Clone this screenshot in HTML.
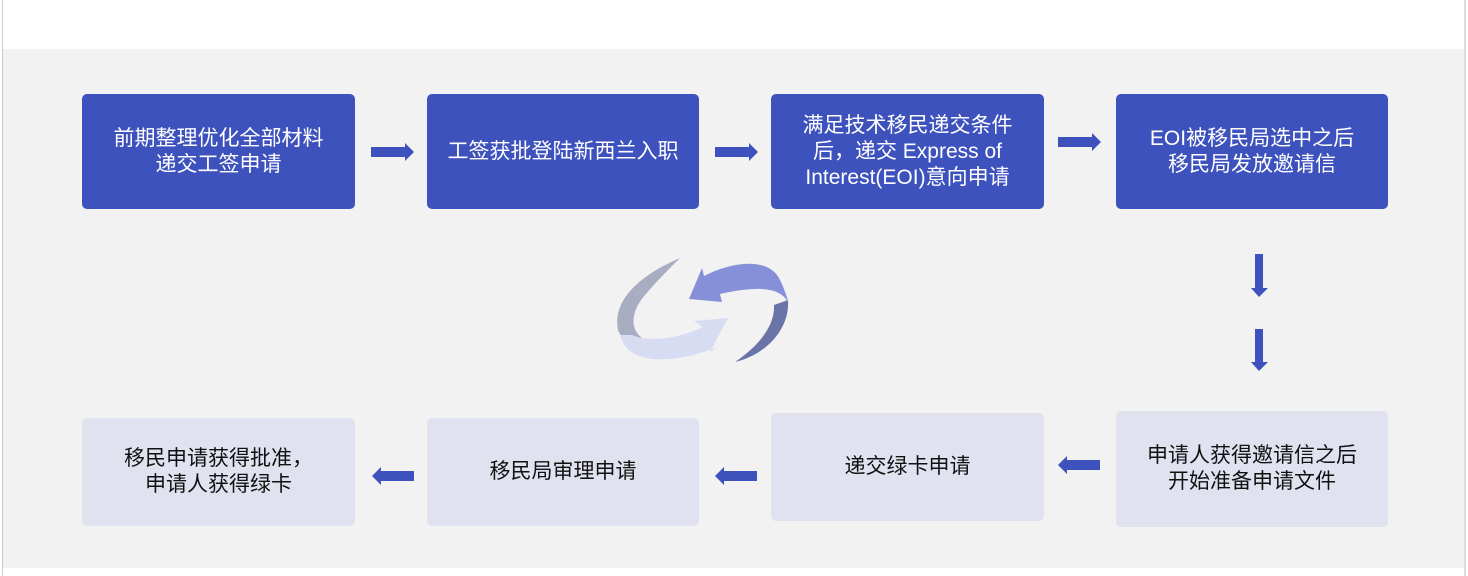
<!DOCTYPE html>
<html><head><meta charset="utf-8"><style>
html,body{margin:0;padding:0;width:1468px;height:576px;background:#fff;overflow:hidden;position:relative;font-family:"Liberation Sans","Noto Sans CJK SC",sans-serif}
.bg{position:absolute;left:3px;top:49px;width:1461px;height:519px;background:#f2f2f2}
.lb{position:absolute;left:2px;top:0;width:1px;height:576px;background:#ccc}
.rb{position:absolute;left:1464px;top:0;width:2px;height:576px;background:#ddd}
.b{position:absolute;border-radius:5px;display:flex;align-items:center;justify-content:center;text-align:center;font-size:21px;line-height:26px}
.d{background:#3d52bd;color:#fff}
.l{background:#e0e2ef;color:#111}
svg{position:absolute;left:0;top:0}
</style></head><body>
<div class="bg"></div><div class="lb"></div><div class="rb"></div>
<div class="b d" style="left:82px;top:94px;width:273px;height:115px">前期整理优化全部材料<br>递交工签申请</div>
<div class="b d" style="left:427px;top:94px;width:272px;height:115px">工签获批登陆新西兰入职</div>
<div class="b d" style="left:771px;top:94px;width:273px;height:115px">满足技术移民递交条件<br>后，递交 Express of<br>Interest(EOI)意向申请</div>
<div class="b d" style="left:1116px;top:94px;width:272px;height:115px">EOI被移民局选中之后<br>移民局发放邀请信</div>
<div class="b l" style="left:82px;top:418px;width:273px;height:108px">移民申请获得批准，<br>申请人获得绿卡</div>
<div class="b l" style="left:427px;top:418px;width:272px;height:108px">移民局审理申请</div>
<div class="b l" style="left:771px;top:413px;width:273px;height:108px">递交绿卡申请</div>
<div class="b l" style="left:1116px;top:411px;width:272px;height:116px">申请人获得邀请信之后<br>开始准备申请文件</div>
<svg width="1468" height="576">
<g fill="#3d52bd">
<polygon points="371,147 405,147 405,143 414,152 405,161 405,157 371,157"/>
<polygon points="715,147 749,147 749,143 758,152 749,161 749,157 715,157"/>
<polygon points="1058,137 1092,137 1092,133 1101,142 1092,151 1092,147 1058,147"/>
<polygon points="1255,254 1263,254 1263,288 1268,288 1259,297 1251,288 1255,288"/>
<polygon points="1255,329 1263,329 1263,362 1268,362 1259,371 1251,362 1255,362"/>
<polygon points="414,471 381,471 381,467 372,476 381,485 381,481 414,481"/>
<polygon points="757,471 724,471 724,467 715,476 724,485 724,481 757,481"/>
<polygon points="1100,460 1067,460 1067,456 1058,465 1067,474 1067,470 1100,470"/>
</g>
<path d="M680,258 C640,275 612,300 618,330 C624,345 640,345 650,342 C630,335 628,315 645,295 C655,283 668,270 680,258Z" fill="#a9adc2"/>
<path d="M620,335 C625,355 645,365 690,356 C710,350 720,347 722,345 L710,352 L728,318 L694,321 L703,327 C680,338 650,343 632,335Z" fill="#d8dcf2"/>
<path d="M788,300 C790,330 765,355 735,362 C760,345 775,325 774,305 Z" fill="#6b74a8"/>
<path d="M689,299 L702,268 L704,276 C735,260 770,258 780,280 C785,290 788,300 788,302 C780,288 760,285 720,294 L722,302Z" fill="#8590d8"/>
</svg>
</body></html>
